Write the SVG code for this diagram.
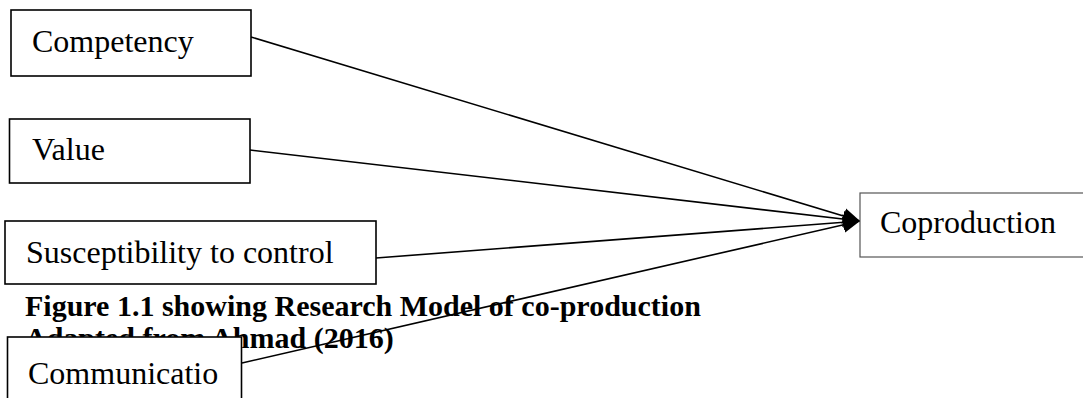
<svg xmlns="http://www.w3.org/2000/svg" width="1083" height="398" viewBox="0 0 1083 398">
<style>
.box{fill:#fff;stroke:#000;stroke-width:1.6}
.box2{fill:#fff;stroke:#555;stroke-width:1.2}
.lbl{font-family:"Liberation Serif","Times New Roman",serif;font-size:32px;fill:#000}
.cap{font-family:"Liberation Serif","Times New Roman",serif;font-size:30px;font-weight:bold;fill:#000}
.edge{stroke:#000;stroke-width:1.6;fill:none}
</style>
<defs>
<marker id="ah" markerUnits="userSpaceOnUse" markerWidth="18" markerHeight="18" refX="17" refY="9" orient="auto">
<path d="M0,1 L17,9 L0,17 Z" fill="#000"/>
</marker>
</defs>
<rect width="1083" height="398" fill="#fff"/>
<g id="caption">
<text class="cap" x="25" y="316">Figure 1.1 showing Research Model of co-production</text>
<text class="cap" x="25" y="348">Adapted from Ahmad (2016)</text>
</g>
<g id="connectors">
<line class="edge" x1="251" y1="37" x2="860" y2="221" marker-end="url(#ah)"/>
<line class="edge" x1="250" y1="150" x2="860" y2="221" marker-end="url(#ah)"/>
<line class="edge" x1="376" y1="258" x2="860" y2="221" marker-end="url(#ah)"/>
<line class="edge" x1="242" y1="363" x2="860" y2="221" marker-end="url(#ah)"/>
</g>
<g id="competency">
<rect class="box" x="11" y="10" width="240" height="66"/>
<text class="lbl" x="32" y="52">Competency</text>
</g>
<g id="value">
<rect class="box" x="9.5" y="119" width="240.5" height="64"/>
<text class="lbl" x="32" y="160">Value</text>
</g>
<g id="susceptibility">
<rect class="box" x="5" y="221" width="371" height="63"/>
<text class="lbl" x="26" y="263">Susceptibility to control</text>
</g>
<g id="communication">
<rect class="box" x="7.5" y="337" width="234" height="80"/>
<text class="lbl" x="28" y="384">Communicatio</text>
</g>
<g id="coproduction">
<rect class="box2" x="860" y="193" width="240" height="64"/>
<text class="lbl" x="880" y="233">Coproduction</text>
</g>
</svg>
